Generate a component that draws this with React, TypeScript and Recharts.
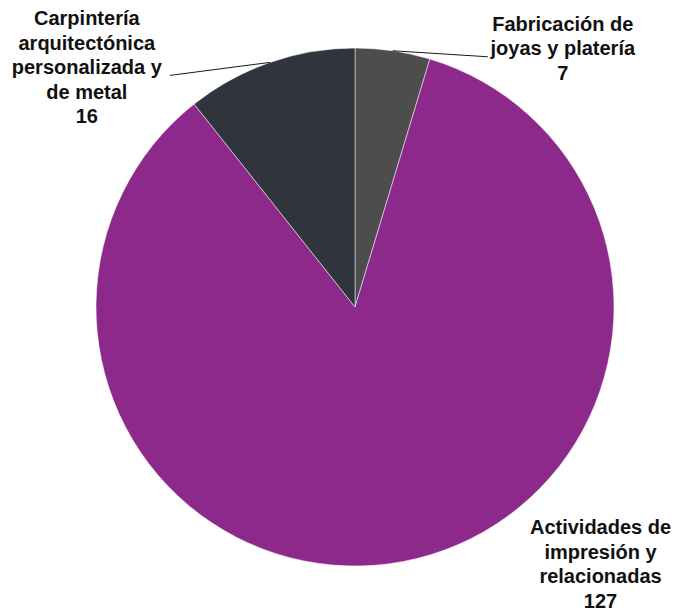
import { PieChart, Pie, Cell } from "recharts";

const CATEGORIES = [
  "Fabricación de joyas y platería",
  "Actividades de impresión y relacionadas",
  "Carpintería arquitectónica personalizada y de metal",
];
const VALUES = [7, 127, 16];
const COLORS = ["#4d4d4d", "#8e298c", "#30343c"];
const LABEL_LINES = [
  ["Fabricación de", "joyas y platería"],
  ["Actividades de", "impresión y", "relacionadas"],
  ["Carpintería", "arquitectónica", "personalizada y", "de metal"],
];

// where each label sits, relative to the slice's outer edge point
const LABEL_LAYOUT = [
  { lx: 95, ly: 6, tx: 170, ty: -20, line: true },
  { lx: 0, ly: 0, tx: 197, ty: -27, line: false },
  { lx: -100, ly: 13, tx: -183, ty: -37, line: true },
];

const data = CATEGORIES.map((name, i) => ({ name, value: VALUES[i] }));

const RAD = Math.PI / 180;
const LINE_H = 24.5;

function renderLabel(props: any) {
  const { cx, cy, midAngle, outerRadius, index, value } = props;
  const ex = cx + outerRadius * Math.cos(-midAngle * RAD);
  const ey = cy + outerRadius * Math.sin(-midAngle * RAD);
  const lay = LABEL_LAYOUT[index];
  const lines = [...LABEL_LINES[index], String(value)];
  return (
    <g key={`lbl-${index}`}>
      {lay.line && (
        <line x1={ex} y1={ey} x2={ex + lay.lx} y2={ey + lay.ly} stroke="#1a1a1a" strokeWidth={1} />
      )}
      <text
        x={ex + lay.tx}
        y={ey + lay.ty}
        textAnchor="middle"
        fill="#111"
        style={{ fontFamily: "'Liberation Sans', Arial, sans-serif", fontWeight: 700, fontSize: 20 }}
      >
        {lines.map((t, i) => (
          <tspan key={i} x={ex + lay.tx} dy={i === 0 ? 0 : LINE_H}>
            {t}
          </tspan>
        ))}
      </text>
    </g>
  );
}

export default function App() {
  return (
    <div style={{ position: "absolute", left: 0, top: 0, width: 673, height: 611, background: "#fff" }}>
      <PieChart width={673} height={611} margin={{ top: 0, right: 0, bottom: 0, left: 0 }}>
        <Pie
          data={data}
          dataKey="value"
          nameKey="name"
          cx={355}
          cy={307}
          outerRadius={259}
          startAngle={90}
          endAngle={-270}
          stroke="#ffffff"
          strokeWidth={0.5}
          label={renderLabel}
          labelLine={false}
          isAnimationActive={false}
        >
          {data.map((_, i) => (
            <Cell key={i} fill={COLORS[i]} />
          ))}
        </Pie>
      </PieChart>
    </div>
  );
}
